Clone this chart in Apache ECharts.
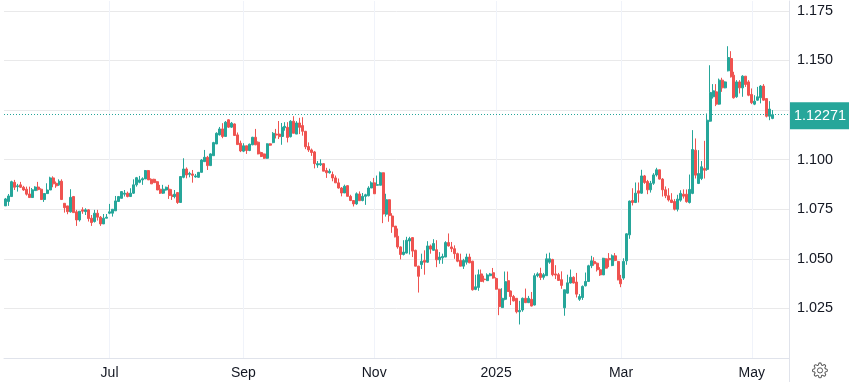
<!DOCTYPE html>
<html>
<head>
<meta charset="utf-8">
<title>EUR/USD</title>
<script src="https://cdn.jsdelivr.net/npm/echarts@6/dist/echarts.min.js"></script>
<style>
html, body { margin: 0; padding: 0; background: #fff; }
#chart { width: 849px; height: 382px; }
</style>
</head>
<body>
<div id="chart"></div>
<script>
// 日期
var categories = [
'2024-05-13','2024-05-14','2024-05-15','2024-05-16','2024-05-17','2024-05-20','2024-05-21','2024-05-22','2024-05-23','2024-05-24','2024-05-27','2024-05-28','2024-05-29','2024-05-30','2024-05-31',
'2024-06-03','2024-06-04','2024-06-05','2024-06-06','2024-06-07','2024-06-10','2024-06-11','2024-06-12','2024-06-13','2024-06-14','2024-06-17','2024-06-18','2024-06-19','2024-06-20','2024-06-21','2024-06-24','2024-06-25','2024-06-26','2024-06-27','2024-06-28',
'2024-07-01','2024-07-02','2024-07-03','2024-07-04','2024-07-05','2024-07-08','2024-07-09','2024-07-10','2024-07-11','2024-07-12','2024-07-15','2024-07-16','2024-07-17','2024-07-18','2024-07-19','2024-07-22','2024-07-23','2024-07-24','2024-07-25','2024-07-26','2024-07-29','2024-07-30','2024-07-31',
'2024-08-01','2024-08-02','2024-08-05','2024-08-06','2024-08-07','2024-08-08','2024-08-09','2024-08-12','2024-08-13','2024-08-14','2024-08-15','2024-08-16','2024-08-19','2024-08-20','2024-08-21','2024-08-22','2024-08-23','2024-08-26','2024-08-27','2024-08-28','2024-08-29','2024-08-30',
'2024-09-02','2024-09-03','2024-09-04','2024-09-05','2024-09-06','2024-09-09','2024-09-10','2024-09-11','2024-09-12','2024-09-13','2024-09-16','2024-09-17','2024-09-18','2024-09-19','2024-09-20','2024-09-23','2024-09-24','2024-09-25','2024-09-26','2024-09-27','2024-09-30',
'2024-10-01','2024-10-02','2024-10-03','2024-10-04','2024-10-07','2024-10-08','2024-10-09','2024-10-10','2024-10-11','2024-10-14','2024-10-15','2024-10-16','2024-10-17','2024-10-18','2024-10-21','2024-10-22','2024-10-23','2024-10-24','2024-10-25','2024-10-28','2024-10-29','2024-10-30','2024-10-31',
'2024-11-01','2024-11-04','2024-11-05','2024-11-06','2024-11-07','2024-11-08','2024-11-11','2024-11-12','2024-11-13','2024-11-14','2024-11-15','2024-11-18','2024-11-19','2024-11-20','2024-11-21','2024-11-22','2024-11-25','2024-11-26','2024-11-27','2024-11-28','2024-11-29',
'2024-12-02','2024-12-03','2024-12-04','2024-12-05','2024-12-06','2024-12-09','2024-12-10','2024-12-11','2024-12-12','2024-12-13','2024-12-16','2024-12-17','2024-12-18','2024-12-19','2024-12-20','2024-12-23','2024-12-26','2024-12-27','2024-12-30','2024-12-31',
'2025-01-02','2025-01-03','2025-01-06','2025-01-07','2025-01-08','2025-01-09','2025-01-10','2025-01-13','2025-01-14','2025-01-15','2025-01-16','2025-01-17','2025-01-20','2025-01-21','2025-01-22','2025-01-23','2025-01-24','2025-01-27','2025-01-28','2025-01-29','2025-01-30','2025-01-31',
'2025-02-03','2025-02-04','2025-02-05','2025-02-06','2025-02-07','2025-02-10','2025-02-11','2025-02-12','2025-02-13','2025-02-14','2025-02-17','2025-02-18','2025-02-19','2025-02-20','2025-02-21','2025-02-24','2025-02-25','2025-02-26','2025-02-27','2025-02-28',
'2025-03-03','2025-03-04','2025-03-05','2025-03-06','2025-03-07','2025-03-10','2025-03-11','2025-03-12','2025-03-13','2025-03-14','2025-03-17','2025-03-18','2025-03-19','2025-03-20','2025-03-21','2025-03-24','2025-03-25','2025-03-26','2025-03-27','2025-03-28','2025-03-31',
'2025-04-01','2025-04-02','2025-04-03','2025-04-04','2025-04-06','2025-04-07','2025-04-08','2025-04-09','2025-04-10','2025-04-11','2025-04-14','2025-04-15','2025-04-16','2025-04-17','2025-04-18','2025-04-21','2025-04-22','2025-04-23','2025-04-24','2025-04-25','2025-04-28','2025-04-29','2025-04-30',
'2025-05-01','2025-05-02','2025-05-05','2025-05-06','2025-05-07','2025-05-08','2025-05-09','2025-05-12',
'2025-05-13','2025-05-14','2025-05-15','2025-05-16','2025-05-19'
];

//x轴刻度
var tickDates = ['2024-07-01','2024-09-02','2024-11-01','2025-01-02','2025-03-03','2025-05-01'];
var tickLabels = ['Jul','Sep','Nov','2025','Mar','May'];

//y轴
var priceMin = 1.0;
var priceMax = 1.18;
var priceStep = 0.025;
var lastPrice = 1.12271;

var opens = [
1.0767,1.0789,1.0814,1.0886,1.0864,1.0873,1.0861,1.0851,1.0827,1.0809,
1.0844,1.0862,1.0851,1.0799,1.0829,1.0847,1.0908,1.0881,1.0873,1.0891,
1.0780,1.0767,1.0737,1.0814,1.0737,1.0696,1.0747,1.0738,1.0747,1.0705,
1.0688,1.0730,1.0710,1.0676,1.0705,1.0730,1.0730,1.0742,1.0789,1.0805,
1.0826,1.0831,1.0814,1.0831,1.0873,1.0886,1.0898,1.0903,1.0945,1.0901,
1.0901,1.0889,1.0851,1.0831,1.0847,1.0851,1.0822,1.0814,1.0834,
1.0784,1.0911,1.0953,1.0926,1.0928,1.0913,1.0911,1.0936,1.0990,1.1012,
1.0970,1.1020,1.1079,1.1125,1.1155,1.1117,1.1201,1.1164,1.1180,1.1125,
1.1083,1.1043,1.1070,1.1046,1.1075,1.1113,1.1088,1.1036,1.1029,1.1007,
1.1080,1.1086,1.1129,1.1129,1.1117,1.1161,1.1163,1.1116,1.1194,1.1129,
1.1185,1.1172,1.1143,1.1066,1.1049,1.1039,1.0973,1.0974,1.0980,1.0945,
1.0934,1.0925,1.0908,1.0883,1.0857,1.0832,1.0869,1.0815,1.0794,1.0777,
1.0827,1.0794,1.0815,1.0818,1.0857,1.0883,1.0871,1.0871,1.0934,1.0725,
1.0798,1.0716,1.0665,1.0614,1.0560,1.0522,1.0529,1.0590,1.0607,1.0543,
1.0463,1.0471,1.0492,1.0483,1.0565,1.0543,1.0546,1.0495,1.0505,1.0509,
1.0582,1.0560,1.0551,1.0526,1.0492,1.0463,1.0483,1.0509,1.0488,1.0346,
1.0356,1.0424,1.0398,1.0390,1.0415,1.0430,1.0401,1.0347,1.0254,1.0296,
1.0390,1.0338,1.0310,1.0301,1.0233,1.0242,1.0301,1.0279,1.0296,1.0267,
1.0415,1.0426,1.0407,1.0415,1.0483,1.0497,1.0424,1.0420,1.0395,1.0253,
1.0327,1.0378,1.0407,1.0383,1.0296,1.0305,1.0364,1.0386,1.0465,1.0487,
1.0478,1.0445,1.0419,1.0500,1.0502,1.0466,1.0515,1.0487,1.0398,1.0403,
1.0490,1.0621,1.0794,1.0784,1.0843,1.0831,1.0918,1.0890,1.0848,1.0881,
1.0923,1.0949,1.0902,1.0848,1.0818,1.0797,1.0789,1.0750,1.0796,1.0826,
1.0826,1.0784,1.0830,1.1048,1.0880,1.0905,1.0956,1.0951,1.1194,1.1317,
1.1342,1.1280,1.1401,1.1362,1.1448,1.1510,1.1426,1.1317,1.1392,1.1362,
1.1421,1.1392,1.1329,1.1280,1.1300,1.1312,1.1371,1.1308,1.1219,1.1208
];

var highs = [
1.0807,1.0827,1.0894,1.0898,1.0878,1.0888,1.0868,1.0864,1.0864,1.0857,
1.0866,1.0888,1.0856,1.0831,1.0881,1.0914,1.0916,1.0890,1.0901,1.0901,
1.0780,1.0767,1.0851,1.0817,1.0747,1.0740,1.0760,1.0755,1.0750,1.0721,
1.0747,1.0747,1.0716,1.0726,1.0726,1.0777,1.0750,1.0817,1.0817,1.0842,
1.0847,1.0839,1.0856,1.0901,1.0913,1.0918,1.0911,1.0948,1.0948,1.0906,
1.0904,1.0893,1.0873,1.0873,1.0864,1.0873,1.0851,1.0847,1.0837,
1.0915,1.1007,1.0961,1.0939,1.0948,1.0928,1.0938,1.1003,1.1049,1.1019,
1.1032,1.1090,1.1138,1.1165,1.1184,1.1195,1.1203,1.1190,1.1183,1.1137,
1.1096,1.1083,1.1070,1.1081,1.1115,1.1155,1.1092,1.1040,1.1031,1.1082,
1.1083,1.1139,1.1155,1.1195,1.1185,1.1189,1.1189,1.1199,1.1219,1.1194,
1.1211,1.1214,1.1145,1.1087,1.1056,1.1044,1.0993,1.1002,1.0982,1.0959,
1.0954,1.0940,1.0920,1.0905,1.0862,1.0874,1.0871,1.0823,1.0796,1.0835,
1.0840,1.0832,1.0828,1.0866,1.0891,1.0908,1.0920,1.0940,1.0936,1.0828,
1.0800,1.0730,1.0665,1.0653,1.0563,1.0594,1.0611,1.0611,1.0609,1.0546,
1.0465,1.0526,1.0543,1.0589,1.0572,1.0599,1.0594,1.0534,1.0526,1.0589,
1.0628,1.0585,1.0568,1.0531,1.0526,1.0500,1.0526,1.0526,1.0490,1.0420,
1.0446,1.0446,1.0415,1.0427,1.0429,1.0454,1.0407,1.0349,1.0352,1.0436,
1.0436,1.0340,1.0318,1.0301,1.0288,1.0305,1.0350,1.0313,1.0333,1.0427,
1.0432,1.0455,1.0429,1.0526,1.0531,1.0500,1.0468,1.0429,1.0437,1.0344,
1.0420,1.0446,1.0412,1.0429,1.0322,1.0366,1.0431,1.0470,1.0515,1.0508,
1.0482,1.0458,1.0505,1.0503,1.0529,1.0522,1.0529,1.0490,1.0419,1.0503,
1.0629,1.0794,1.0856,1.0885,1.0885,1.0949,1.0923,1.0898,1.0893,1.0932,
1.0959,1.0949,1.0907,1.0865,1.0856,1.0831,1.0801,1.0823,1.0846,1.0850,
1.0850,1.0925,1.1149,1.1107,1.1048,1.0993,1.1095,1.1233,1.1476,1.1381,
1.1381,1.1409,1.1413,1.1395,1.1572,1.1547,1.1443,1.1401,1.1401,1.1426,
1.1421,1.1401,1.1359,1.1325,1.1367,1.1376,1.1381,1.1308,1.1295,1.1250
];

var lows = [
1.0767,1.0767,1.0814,1.0847,1.0839,1.0857,1.0843,1.0819,1.0809,1.0807,
1.0842,1.0844,1.0797,1.0787,1.0827,1.0847,1.0861,1.0858,1.0868,1.0799,
1.0733,1.0725,1.0733,1.0733,1.0666,1.0688,1.0727,1.0721,1.0688,1.0666,
1.0683,1.0693,1.0666,1.0676,1.0705,1.0725,1.0713,1.0742,1.0787,1.0805,
1.0814,1.0810,1.0814,1.0827,1.0864,1.0881,1.0873,1.0903,1.0898,1.0878,
1.0884,1.0847,1.0827,1.0827,1.0844,1.0802,1.0797,1.0805,1.0777,
1.0784,1.0906,1.0906,1.0911,1.0884,1.0909,1.0909,1.0936,1.0990,1.0948,
1.0968,1.1020,1.1079,1.1122,1.1108,1.1117,1.1160,1.1160,1.1122,1.1076,
1.1038,1.1038,1.1029,1.1043,1.1073,1.1073,1.1027,1.1013,1.1004,1.1004,
1.1070,1.1083,1.1107,1.1104,1.1075,1.1146,1.1087,1.1112,1.1133,1.1129,
1.1129,1.1121,1.1053,1.1039,1.1019,1.0956,1.0959,1.0968,1.0942,1.0908,
1.0930,1.0891,1.0883,1.0854,1.0815,1.0832,1.0815,1.0791,1.0764,1.0772,
1.0793,1.0790,1.0772,1.0815,1.0857,1.0828,1.0869,1.0871,1.0680,1.0713,
1.0687,1.0631,1.0608,1.0551,1.0497,1.0517,1.0527,1.0522,1.0509,1.0463,
1.0330,1.0449,1.0420,1.0480,1.0526,1.0540,1.0458,1.0475,1.0475,1.0509,
1.0562,1.0534,1.0500,1.0483,1.0463,1.0449,1.0471,1.0478,1.0340,1.0342,
1.0339,1.0385,1.0381,1.0390,1.0412,1.0400,1.0345,1.0216,1.0252,1.0291,
1.0333,1.0267,1.0285,1.0225,1.0169,1.0233,1.0277,1.0277,1.0260,1.0265,
1.0407,1.0393,1.0395,1.0415,1.0475,1.0412,1.0398,1.0389,1.0349,1.0213,
1.0325,1.0376,1.0376,1.0305,1.0288,1.0293,1.0361,1.0384,1.0453,1.0465,
1.0436,1.0414,1.0419,1.0451,1.0458,1.0463,1.0488,1.0392,1.0357,1.0394,
1.0470,1.0601,1.0769,1.0781,1.0784,1.0828,1.0878,1.0826,1.0834,1.0873,
1.0915,1.0900,1.0814,1.0806,1.0789,1.0781,1.0744,1.0739,1.0788,1.0804,
1.0783,1.0779,1.0826,1.0905,1.0877,1.0897,1.0905,1.0944,1.1191,1.1308,
1.1270,1.1277,1.1342,1.1360,1.1445,1.1414,1.1308,1.1312,1.1334,1.1317,
1.1367,1.1320,1.1280,1.1275,1.1297,1.1284,1.1297,1.1213,1.1199,1.1204
];

var closes = [
1.0802,1.0817,1.0889,1.0861,1.0868,1.0861,1.0847,1.0826,1.0809,1.0848,
1.0862,1.0849,1.0799,1.0829,1.0847,1.0908,1.0878,1.0868,1.0891,1.0799,
1.0758,1.0738,1.0810,1.0733,1.0696,1.0740,1.0740,1.0747,1.0703,1.0683,
1.0730,1.0710,1.0676,1.0705,1.0710,1.0737,1.0750,1.0792,1.0814,1.0839,
1.0831,1.0814,1.0831,1.0873,1.0909,1.0898,1.0904,1.0945,1.0898,1.0878,
1.0884,1.0847,1.0831,1.0851,1.0861,1.0819,1.0814,1.0826,1.0784,
1.0915,1.0953,1.0923,1.0931,1.0921,1.0918,1.0936,1.0998,1.1012,1.0970,
1.1029,1.1086,1.1133,1.1155,1.1117,1.1189,1.1164,1.1184,1.1122,1.1076,
1.1044,1.1070,1.1046,1.1078,1.1113,1.1075,1.1029,1.1016,1.1007,1.1080,
1.1073,1.1133,1.1124,1.1116,1.1163,1.1168,1.1112,1.1194,1.1133,1.1185,
1.1163,1.1143,1.1065,1.1049,1.1036,1.0980,1.0980,1.0980,1.0942,1.0934,
1.0942,1.0908,1.0883,1.0857,1.0832,1.0866,1.0815,1.0794,1.0777,1.0828,
1.0793,1.0815,1.0823,1.0857,1.0883,1.0828,1.0874,1.0934,1.0726,1.0798,
1.0718,1.0662,1.0611,1.0560,1.0522,1.0534,1.0594,1.0602,1.0539,1.0463,
1.0412,1.0488,1.0483,1.0565,1.0549,1.0577,1.0495,1.0509,1.0512,1.0582,
1.0565,1.0551,1.0526,1.0488,1.0463,1.0492,1.0509,1.0480,1.0344,1.0359,
1.0420,1.0386,1.0395,1.0419,1.0424,1.0403,1.0347,1.0259,1.0301,1.0385,
1.0335,1.0310,1.0288,1.0233,1.0240,1.0301,1.0279,1.0301,1.0262,1.0415,
1.0424,1.0406,1.0420,1.0500,1.0500,1.0420,1.0418,1.0391,1.0366,1.0344,
1.0379,1.0407,1.0378,1.0322,1.0310,1.0361,1.0386,1.0465,1.0490,1.0475,
1.0445,1.0419,1.0503,1.0453,1.0495,1.0515,1.0492,1.0394,1.0374,1.0487,
1.0626,1.0791,1.0784,1.0831,1.0831,1.0918,1.0885,1.0848,1.0881,1.0923,
1.0949,1.0902,1.0848,1.0818,1.0797,1.0784,1.0750,1.0801,1.0830,1.0816,
1.0788,1.0850,1.1051,1.0922,1.0930,1.0964,1.0947,1.1199,1.1339,1.1347,
1.1280,1.1401,1.1362,1.1392,1.1515,1.1418,1.1312,1.1392,1.1362,1.1421,
1.1379,1.1325,1.1287,1.1295,1.1317,1.1371,1.1300,1.1219,1.1255,1.12271
];

//蜡烛图数据 [open, close, low, high]
var candleData = [];
for (var i = 0; i < opens.length; i++) {
	candleData.push([opens[i], closes[i], lows[i], highs[i]]);
}

var upColor = '#26a69a';
var downColor = '#ef5350';
var gridLineColor = '#e9e9ea';
var axisColor = '#e0e3eb';
var textColor = '#131722';
var fontName = '"Liberation Sans", Arial, sans-serif';

var isTick = function(index, value) {
	return tickDates.indexOf(value) >= 0;
};

//设置按钮图标
var gearPath = 'M19.4 15a1.65 1.65 0 0 0 .33 1.82l.06.06a2 2 0 0 1 0 2.83 2 2 0 0 1-2.83 0l-.06-.06a1.65 1.65 0 0 0-1.82-.33 1.65 1.65 0 0 0-1 1.51V21a2 2 0 0 1-2 2 2 2 0 0 1-2-2v-.09A1.65 1.65 0 0 0 9 19.4a1.65 1.65 0 0 0-1.82.33l-.06.06a2 2 0 0 1-2.83 0 2 2 0 0 1 0-2.83l.06-.06a1.65 1.65 0 0 0 .33-1.82 1.65 1.65 0 0 0-1.51-1H3a2 2 0 0 1-2-2 2 2 0 0 1 2-2h.09A1.65 1.65 0 0 0 4.6 9a1.65 1.65 0 0 0-.33-1.82l-.06-.06a2 2 0 0 1 0-2.83 2 2 0 0 1 2.83 0l.06.06a1.65 1.65 0 0 0 1.82.33H9a1.65 1.65 0 0 0 1-1.51V3a2 2 0 0 1 2-2 2 2 0 0 1 2 2v.09a1.65 1.65 0 0 0 1 1.51 1.65 1.65 0 0 0 1.82-.33l.06-.06a2 2 0 0 1 2.83 0 2 2 0 0 1 0 2.83l-.06.06a1.65 1.65 0 0 0-.33 1.82V9a1.65 1.65 0 0 0 1.51 1H21a2 2 0 0 1 2 2 2 2 0 0 1-2 2h-.09a1.65 1.65 0 0 0-1.51 1z';
echarts.graphic.registerShape('gear', echarts.graphic.extendPath(gearPath, {}));

var myChart = echarts.init(document.getElementById('chart'), null, { renderer: 'canvas' });

var option = {
	animation: false,
	backgroundColor: '#fff',
	grid: { left: 4, right: 60, top: 1, bottom: 24 },
	xAxis: {
		type: 'category',
		data: categories,
		boundaryGap: true,
		axisLine: { show: true, lineStyle: { color: axisColor, width: 1 } },
		axisTick: { show: false },
		axisLabel: {
			interval: isTick,
			margin: 8,
			color: textColor,
			fontSize: 14,
			fontFamily: fontName,
			formatter: function(value) {
				return tickLabels[tickDates.indexOf(value)];
			}
		},
		splitLine: { show: true, alignWithLabel: true, interval: isTick, lineStyle: { color: '#f0f3fa', width: 1 } }
	},
	yAxis: {
		type: 'value',
		position: 'right',
		min: priceMin,
		max: priceMax,
		interval: priceStep,
		axisLine: { show: true, lineStyle: { color: axisColor, width: 1 } },
		axisTick: { show: false },
		axisLabel: {
			margin: 8,
			color: textColor,
			fontSize: 14.4,
			fontFamily: fontName,
			showMaxLabel: false,
			showMinLabel: false,
			formatter: function(value) {
				return value.toFixed(3);
			}
		},
		splitLine: { show: true, showMaxLine: false, lineStyle: { color: gridLineColor, width: 1 } }
	},
	series: [{
		type: 'candlestick',
		data: candleData,
		barWidth: 2.5,
		silent: true,
		itemStyle: {
			color: upColor,
			color0: downColor,
			borderColor: upColor,
			borderColor0: downColor,
			borderWidth: 1
		},
		markLine: {
			silent: true,
			symbol: 'none',
			animation: false,
			precision: 5,
			data: [{ yAxis: lastPrice }],
			lineStyle: { color: upColor, type: [1, 2], width: 1 },
			label: {
				show: true,
				position: 'end',
				distance: 1,
				formatter: lastPrice.toFixed(5),
				color: '#fff',
				backgroundColor: upColor,
				fontSize: 14.4,
				fontFamily: fontName,
				padding: [7, 3, 6, 4],
				offset: [0, 1]
			}
		}
	}],
	graphic: [
		{ type: 'line', silent: true, shape: { x1: 789.5, y1: 358, x2: 789.5, y2: 382 }, style: { stroke: axisColor, lineWidth: 1 } },
		{ type: 'gear', silent: true, x: 811.8, y: 362.2, scaleX: 0.68, scaleY: 0.68, style: { fill: 'none', stroke: '#5a5a5a', lineWidth: 1.5 } },
		{ type: 'circle', silent: true, shape: { cx: 820, cy: 370.4, r: 2.6 }, style: { fill: 'none', stroke: '#5a5a5a', lineWidth: 1 } }
	]
};

myChart.setOption(option);
</script>
</body>
</html>
